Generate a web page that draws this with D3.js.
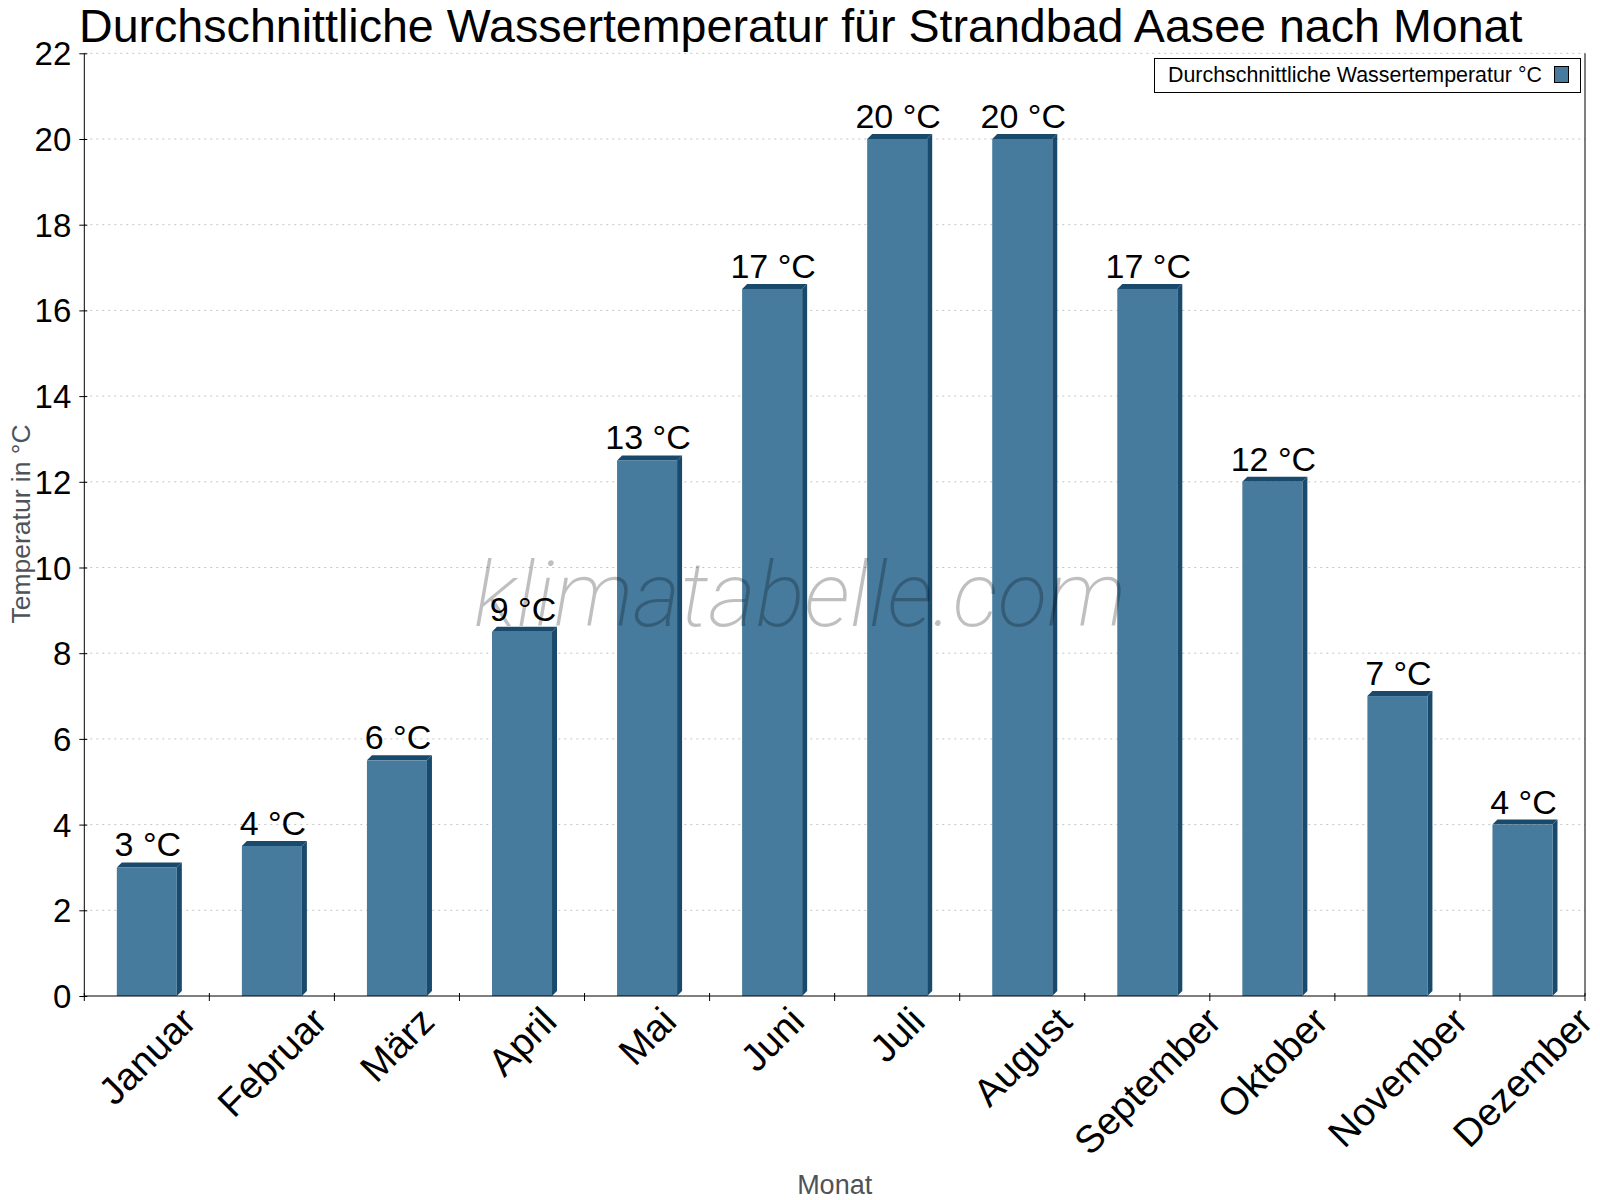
<!DOCTYPE html>
<html><head><meta charset="utf-8">
<script src="https://cdn.jsdelivr.net/npm/d3@7"></script>
<style>
html,body{margin:0;padding:0;background:#fff;}
svg{display:block;font-family:"Liberation Sans",Arial,sans-serif;}
</style></head>
<body>
<svg id="chart" width="1600" height="1200"></svg>
<script>
const titleText = "Durchschnittliche Wassertemperatur für Strandbad Aasee nach Monat";
const seriesName = "Durchschnittliche Wassertemperatur °C";
const months = ["Januar","Februar","März","April","Mai","Juni","Juli","August","September","Oktober","November","Dezember"];
const waterTemp = [3, 3.5, 5.5, 8.5, 12.5, 16.5, 20, 20, 16.5, 12, 7, 4];
const valueLabels = ["3 °C","4 °C","6 °C","9 °C","13 °C","17 °C","20 °C","20 °C","17 °C","12 °C","7 °C","4 °C"];
const yTicks = [0,2,4,6,8,10,12,14,16,18,20,22];
const yTitle = "Temperatur in °C";
const xTitle = "Monat";
const watermark = "klimatabelle.com";

const svg = d3.select("#chart");
const L = 84.3, R = 1585, T = 53.3, B = 996;
const front = "#467b9e", dark = "#1a4a6b";
const depth = 5;

const x = d3.scaleBand().domain(months).range([L, R]).paddingInner(0).paddingOuter(0);
const y = d3.scaleLinear().domain([0, 22]).range([B, T]);

// grid
svg.append("g").selectAll("line").data(yTicks.filter(d => d > 0)).join("line")
  .attr("x1", L).attr("x2", R).attr("y1", d => y(d)).attr("y2", d => y(d))
  .attr("stroke", "#c4c4c4").attr("stroke-width", 1).attr("stroke-dasharray", "2,4");

// bars (3D)
const bw = x.bandwidth() * 0.48;
const bars = svg.append("g");
months.forEach((m, i) => {
  const cx = x(m) + x.bandwidth() / 2;
  const x0 = cx - bw / 2, x1 = cx + bw / 2;
  const yt = y(waterTemp[i]), yb = y(0);
  bars.append("polygon")
    .attr("points", [[x1, yt], [x1 + depth, yt - depth], [x1 + depth, yb - depth], [x1, yb]].map(p => p.join(",")).join(" "))
    .attr("fill", dark);
  bars.append("polygon")
    .attr("points", [[x0, yt], [x0 + depth, yt - depth], [x1 + depth, yt - depth], [x1, yt]].map(p => p.join(",")).join(" "))
    .attr("fill", dark);
  bars.append("rect").attr("x", x0).attr("y", yt).attr("width", bw).attr("height", yb - yt).attr("fill", front);
});

// value labels
svg.append("g").selectAll("text").data(months).join("text")
  .attr("x", d => x(d) + x.bandwidth() / 2 + 1)
  .attr("y", (d, i) => y(waterTemp[i]) - depth - 6)
  .attr("text-anchor", "middle").attr("font-size", 34).attr("fill", "#000")
  .text((d, i) => valueLabels[i]);

// axes
const yAxis = svg.append("g").attr("transform", `translate(${L},0)`)
  .call(d3.axisLeft(y).tickValues(yTicks).tickSize(5).tickPadding(8).tickFormat(d3.format("d")));
yAxis.select(".domain").remove();
yAxis.selectAll(".tick line").attr("x1", -5).attr("x2", 3).attr("stroke", "#000");
yAxis.selectAll(".tick text").attr("font-size", 33).attr("font-family", "Liberation Sans, Arial, sans-serif").attr("fill", "#000").attr("dy", "0.35em");
svg.append("line").attr("x1", L).attr("x2", L).attr("y1", T).attr("y2", B).attr("stroke", "#000");
svg.append("line").attr("x1", R).attr("x2", R).attr("y1", T).attr("y2", B).attr("stroke", "#000");
svg.append("line").attr("x1", L).attr("x2", R).attr("y1", B).attr("y2", B).attr("stroke", "#000");

// x ticks at band boundaries
const bounds = months.map(m => x(m)).concat([R]);
svg.append("g").selectAll("line").data(bounds).join("line")
  .attr("x1", d => d).attr("x2", d => d).attr("y1", B - 3).attr("y2", B + 5).attr("stroke", "#000");

// x labels rotated
const xl = svg.append("g");
months.forEach(m => {
  const t = xl.append("text").attr("text-anchor", "middle").attr("font-size", 38.5).attr("fill", "#000").text(m);
  const b = t.node().getBBox();
  const ext = (b.width + b.height) * Math.SQRT1_2;
  const cx = x(m) + x.bandwidth() / 2;
  const cy = B + 3 + ext / 2;
  t.attr("y", -(b.y + b.height / 2)).attr("transform", `translate(${cx},${cy}) rotate(-45)`);
});

// axis titles
svg.append("text").attr("transform", `translate(29.5,524) rotate(-90)`).attr("text-anchor", "middle")
  .attr("font-size", 26.5).attr("fill", "#4d5358").text(yTitle);
svg.append("text").attr("x", (L + R) / 2).attr("y", 1194).attr("text-anchor", "middle")
  .attr("font-size", 27).attr("fill", "#4d5358").text(xTitle);

// title
svg.append("text").attr("x", 79).attr("y", 41.5).attr("font-size", 46.6).attr("fill", "#000").text(titleText);

// legend
const lg = svg.append("g");
lg.append("rect").attr("x", 1154.5).attr("y", 58.5).attr("width", 426).attr("height", 34).attr("fill", "#fff").attr("stroke", "#000");
lg.append("text").attr("x", 1168).attr("y", 81.5).attr("font-size", 21.4).attr("fill", "#000").text(seriesName);
lg.append("rect").attr("x", 1554.5).attr("y", 66.5).attr("width", 14).attr("height", 16).attr("fill", front).attr("stroke", "#000");

// watermark
svg.append("text").attr("x", 800).attr("y", 626).attr("text-anchor", "middle")
  .attr("font-family", "Roboto, sans-serif").attr("font-weight", 200).attr("font-style", "italic")
  .attr("font-size", 91.5).attr("fill", "rgba(0,0,0,0.25)").text(watermark);
</script>
</body></html>
